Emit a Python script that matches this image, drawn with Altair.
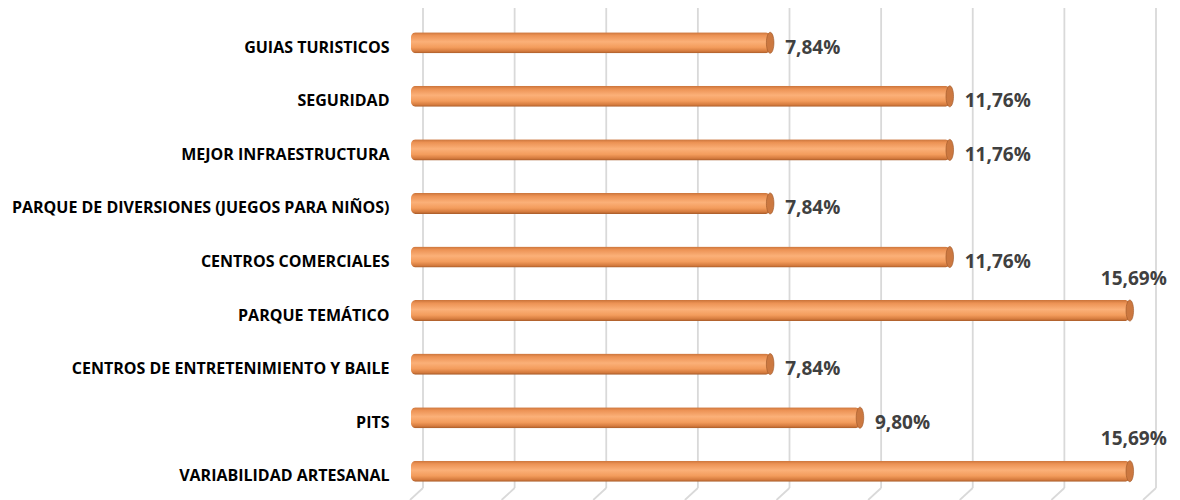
import altair as alt
import pandas as pd

categories = [
    "GUIAS TURISTICOS",
    "SEGURIDAD",
    "MEJOR INFRAESTRUCTURA",
    "PARQUE DE DIVERSIONES (JUEGOS PARA NIÑOS)",
    "CENTROS COMERCIALES",
    "PARQUE TEMÁTICO",
    "CENTROS DE ENTRETENIMIENTO Y BAILE",
    "PITS",
    "VARIABILIDAD ARTESANAL",
]
values = [7.84, 11.76, 11.76, 7.84, 11.76, 15.69, 7.84, 9.80, 15.69]
grid_ticks = [0, 2, 4, 6, 8, 10, 12, 14, 16]

df = pd.DataFrame({
    "cat": categories,
    "val": values,
    "label": [f"{v:.2f}".replace(".", ",") + "%" for v in values],
})
grid_df = pd.DataFrame({"t": grid_ticks})

FONT = "Open Sans"
xscale = alt.Scale(domain=[0, 16], nice=False, zero=True)
yscale = alt.Scale(domain=categories, paddingInner=0.607, paddingOuter=0.3035)

x_enc = alt.X("val:Q", scale=xscale, axis=None)
y_enc = alt.Y("cat:N", scale=yscale, sort=categories, title=None,
              axis=alt.Axis(domain=False, ticks=False, grid=False, labelPadding=22,
                            labelOffset=5,
                            labelFont=FONT, labelFontSize=16, labelFontWeight="bold",
                            labelColor="#000000", labelLimit=500, labelBaseline="middle"))

grid_v = alt.Chart(grid_df).mark_rule(color="#d9d9d9", strokeWidth=1.8, xOffset=12).encode(
    x=alt.X("t:Q", scale=xscale, axis=None),
    y=alt.value(-8), y2=alt.value(472),
)
grid_s = alt.Chart(grid_df).mark_rule(color="#d9d9d9", strokeWidth=1.8, xOffset=12, x2Offset=-1).encode(
    x=alt.X("t:Q", scale=xscale, axis=None),
    x2="t:Q",
    y=alt.value(472), y2=alt.value(484),
)

grad = alt.Gradient(
    gradient="linear", x1=0, x2=0, y1=0, y2=1,
    stops=[
        alt.GradientStop(color="#c9733a", offset=0),
        alt.GradientStop(color="#ec9254", offset=0.15),
        alt.GradientStop(color="#fbb078", offset=0.45),
        alt.GradientStop(color="#f39c5c", offset=0.72),
        alt.GradientStop(color="#d57b3e", offset=0.9),
        alt.GradientStop(color="#a65a28", offset=1),
    ],
)

bars = alt.Chart(df).mark_bar(color=grad, cornerRadius=5).encode(x=x_enc, y=y_enc)

ellipse = "M0,-1A0.36,1,0,1,1,0,1A0.36,1,0,1,1,0,-1Z"
caps = alt.Chart(df).mark_point(shape=ellipse, size=441, filled=True, fill="#cc7840",
                                stroke="#9c5526", strokeWidth=0.6, opacity=1).encode(
    x=x_enc, y=y_enc)

txt_side = alt.Chart(df).transform_filter("datum.val < 15").mark_text(
    align="left", baseline="middle", dx=15, dy=5, font=FONT, fontSize=19,
    fontWeight="bold", color="#404040").encode(x=x_enc, y=y_enc, text="label:N")
txt_top = alt.Chart(df).transform_filter("datum.val >= 15").mark_text(
    align="center", baseline="middle", dx=4, dy=-32, font=FONT, fontSize=19,
    fontWeight="bold", color="#404040").encode(x=x_enc, y=y_enc, text="label:N")

chart = alt.layer(grid_v, grid_s, bars, caps, txt_side, txt_top).properties(
    width=733, height=482,
    autosize=alt.AutoSizeParams(type="none"),
    padding={"left": 403, "top": 8, "right": 28, "bottom": 2},
    background="white",
).configure_view(stroke=None)

chart.save("out.html", embed_options={"renderer": "svg", "actions": False})
